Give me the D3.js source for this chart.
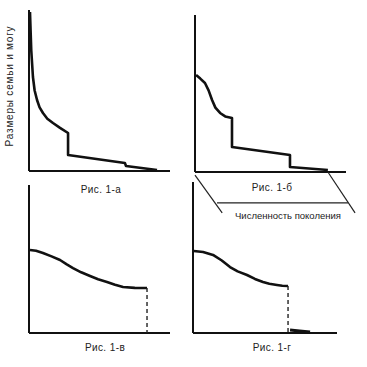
<!DOCTYPE html>
<html><head><meta charset="utf-8">
<script src="https://cdn.jsdelivr.net/npm/d3@7"></script>
<style>body{margin:0;background:#fff}svg{display:block}text{font-family:"Liberation Sans",Arial,sans-serif;fill:#222}</style>
</head><body>
<script>
// Panel titles
const panelLabels = ["Рис. 1-а", "Рис. 1-б", "Рис. 1-в", "Рис. 1-г"];
const yAxisLabel = "Размеры семьи и могу";
const bracketLabel = "Численность поколения";

// Curves (x: position along generation, y: size) in 0..100 units
const curveA = [[0.7,98.8],[1.1,88],[1.6,75],[2.8,58.4],[4,50],[5.7,44.1],[7.5,39.5],[9.9,36],[13,32.5],[17,29.8],[22,26.8],[27.7,23.6],[27.7,9.9],[68,5],[68.8,3.1],[90.8,0.6]];
const curveB = [[0.7,61.8],[3.5,59.5],[6.6,56.7],[9,52],[11.3,45.9],[13.5,41],[16.6,37.6],[20,35.4],[24.5,34.4],[24.5,15.9],[62.9,10.8],[62.9,3.2],[88,1.3]];
const curveC = [[0.7,56.1],[5,55.6],[9.9,54.1],[16,51.8],[22,49.3],[26.5,46.5],[31.2,43.9],[37,41],[43.3,38.5],[49,36.3],[55.3,34.5],[61,32.6],[66.7,31.1],[75,30.5],[83.7,30.4]];
const curveD = [[0.5,54.3],[7,53.6],[13.9,51.7],[20,48],[25.7,43.7],[31,40.8],[37.5,38.4],[43,35.8],[48.6,33.8],[53,32.6],[58.3,31.8],[62,31.3],[66,31.1]];
const dropC = [[83.7,30.4],[83.7,0]];
const dropD = [[66,31.1],[66,0]];
const tailD = [[67.4,2],[74,1.4],[81.3,0.7]];
// bracket under panel б
const bracketLeft = [[0,-2],[18,-26]];
const bracketMid = [[14.6,-19.7],[101.3,-19.7]];
const bracketRight = [[88,0],[106,-26]];

const svg = d3.select("body").append("svg").attr("width",367).attr("height",367);

const panels = [
  {x0:29, x1:170, y0:171, y1:10, curve:curveA, label:panelLabels[0], lx:101, ly:193},
  {x0:195, x1:346, y0:172, y1:15, curve:curveB, label:panelLabels[1], lx:272, ly:191},
  {x0:29, x1:170, y0:333, y1:185, curve:curveC, drop:dropC, label:panelLabels[2], lx:105, ly:351},
  {x0:193, x1:337, y0:333, y1:182, curve:curveD, drop:dropD, tail:tailD, label:panelLabels[3], lx:272, ly:351}
];

const line = (sx,sy)=>d3.line().x(d=>sx(d[0])).y(d=>sy(d[1])).curve(d3.curveLinear);

panels.forEach((p,i)=>{
  const sx = d3.scaleLinear().domain([0,100]).range([p.x0,p.x1]);
  const sy = d3.scaleLinear().domain([0,100]).range([p.y0,p.y1]);
  const g = svg.append("g");
  // axes
  g.append("line").attr("x1",sx(0)).attr("x2",sx(0)).attr("y1",sy(0)).attr("y2",sy(100))
    .attr("stroke","#111").attr("stroke-width",2);
  g.append("line").attr("x1",sx(0)).attr("x2",sx(100)).attr("y1",sy(0)).attr("y2",sy(0))
    .attr("stroke","#111").attr("stroke-width",2);
  g.append("path").attr("d",line(sx,sy)(p.curve)).attr("fill","none")
    .attr("stroke","#111").attr("stroke-width",2.6).attr("stroke-linejoin","round");
  if(p.drop){
    g.append("path").attr("d",line(sx,sy)(p.drop)).attr("fill","none")
      .attr("stroke","#222").attr("stroke-width",1.4).attr("stroke-dasharray","4,3");
  }
  if(p.tail){
    g.append("path").attr("d",line(sx,sy)(p.tail)).attr("fill","none")
      .attr("stroke","#111").attr("stroke-width",3);
  }
  g.append("text").attr("x",p.lx).attr("y",p.ly).attr("text-anchor","middle")
    .attr("font-size",10).attr("letter-spacing",0.4).text(p.label);
  if(i===1){
    [bracketLeft,bracketMid,bracketRight].forEach(b=>{
      g.append("path").attr("d",line(sx,sy)(b)).attr("fill","none")
        .attr("stroke","#222").attr("stroke-width",1.2);
    });
    g.append("text").attr("x",288).attr("y",219).attr("text-anchor","middle")
      .attr("font-size",9.5).text(bracketLabel);
  }
});

svg.append("text").attr("transform","translate(13,86) rotate(-90)")
  .attr("text-anchor","middle").attr("font-size",10).attr("letter-spacing",0.8).text(yAxisLabel);
</script>
</body></html>
